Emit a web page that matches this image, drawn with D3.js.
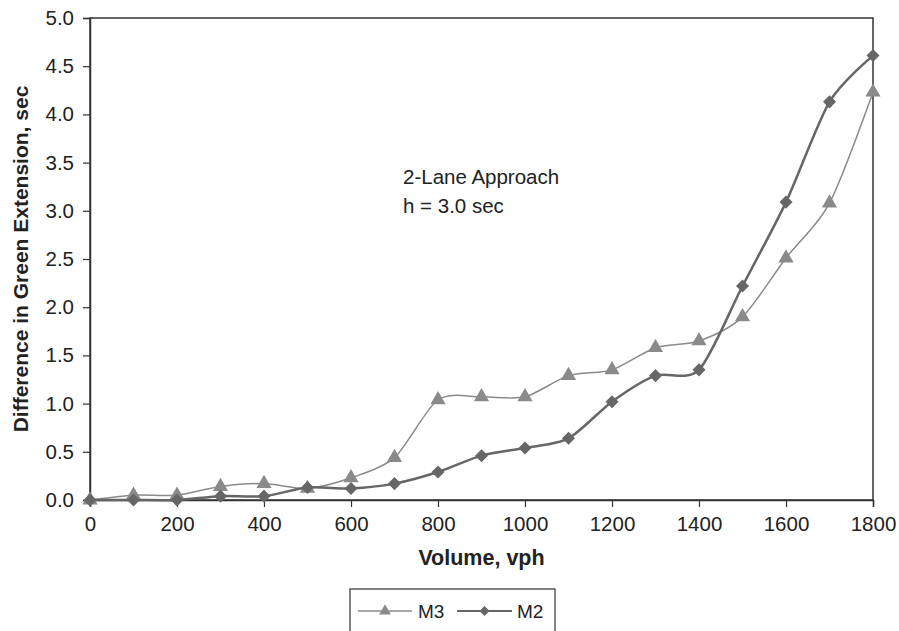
<!DOCTYPE html>
<html>
<head>
<meta charset="utf-8">
<style>
body { margin: 0; background: #fff; }
svg text { font-family: "Liberation Sans", Arial, sans-serif; fill: #222; }
</style>
</head>
<body>
<svg width="899" height="631"></svg>
<script src="https://d3js.org/d3.v7.min.js"></script>
<script>
var volume = [0, 100, 200, 300, 400, 500, 600, 700, 800, 900, 1000, 1100, 1200, 1300, 1400, 1500, 1600, 1700, 1800];
var m3 = [0.00, 0.05, 0.05, 0.14, 0.17, 0.12, 0.23, 0.44, 1.04, 1.07, 1.07, 1.29, 1.35, 1.58, 1.65, 1.90, 2.51, 3.08, 4.23];
var m2 = [0.00, 0.00, 0.00, 0.04, 0.04, 0.13, 0.12, 0.17, 0.29, 0.46, 0.54, 0.64, 1.02, 1.29, 1.35, 2.22, 3.09, 4.13, 4.61];
var xTicks = [0, 200, 400, 600, 800, 1000, 1200, 1400, 1600, 1800];
var yTicks = [0, 0.5, 1, 1.5, 2, 2.5, 3, 3.5, 4, 4.5, 5];

var svg = d3.select("svg");
var pLeft = 90, pRight = 873, pTop = 18, pBottom = 500;

var x = d3.scaleLinear().domain([0, 1800]).range([pLeft, pRight]);
var y = d3.scaleLinear().domain([0, 5]).range([pBottom, pTop]);

// frame
svg.append("rect")
    .attr("x", pLeft).attr("y", pTop)
    .attr("width", pRight - pLeft).attr("height", pBottom - pTop)
    .attr("fill", "none").attr("stroke", "#333").attr("stroke-width", 1.5);

var yAxis = svg.append("g")
    .attr("transform", "translate(" + pLeft + ",0)")
    .call(d3.axisLeft(y).tickValues(yTicks).tickSize(7).tickPadding(9)
        .tickFormat(d3.format(".1f")));
var xAxis = svg.append("g")
    .attr("transform", "translate(0," + pBottom + ")")
    .call(d3.axisBottom(x).tickValues(xTicks).tickSize(7).tickPadding(9)
        .tickFormat(d3.format("d")));

[xAxis, yAxis].forEach(function(a) {
  a.select(".domain").attr("stroke", "#333").attr("stroke-width", 1.5);
  a.selectAll(".tick line").attr("stroke", "#333").attr("stroke-width", 1.2);
  a.selectAll(".tick text").style("font-size", "20.5px").attr("fill", "#222");
});

svg.append("text")
    .attr("transform", "translate(28," + ((pTop + pBottom) / 2) + ") rotate(-90)")
    .attr("text-anchor", "middle")
    .style("font-size", "21px").style("font-weight", "bold")
    .text("Difference in Green Extension, sec");

svg.append("text")
    .attr("x", (pLeft + pRight) / 2).attr("y", 565)
    .attr("text-anchor", "middle")
    .style("font-size", "21.5px").style("font-weight", "bold")
    .text("Volume, vph");

svg.append("text").attr("x", 403).attr("y", 184)
    .style("font-size", "20.5px").text("2-Lane Approach");
svg.append("text").attr("x", 403).attr("y", 213)
    .style("font-size", "20.5px").text("h = 3.0 sec");

var line = d3.line()
    .x(function(d) { return x(d[0]); })
    .y(function(d) { return y(d[1]); })
    .curve(d3.curveCardinal.tension(0.2));

// triangle and a square turned 45 degrees for the diamond
var tri = d3.symbol().type(d3.symbolTriangle).size(100);
var dia = d3.symbol().type(d3.symbolSquare).size(85);
var triSmall = d3.symbol().type(d3.symbolTriangle).size(60);
var diaSmall = d3.symbol().type(d3.symbolSquare).size(50);

var series = [
  { name: "M3", values: m3, color: "#8a8a8a", width: 1.5, sym: tri, small: triSmall, rot: 0 },
  { name: "M2", values: m2, color: "#666666", width: 2.5, sym: dia, small: diaSmall, rot: 45 }
];

series.forEach(function(s) {
  var pts = volume.map(function(v, i) { return [v, s.values[i]]; });
  svg.append("path").datum(pts)
      .attr("d", line)
      .attr("fill", "none")
      .attr("stroke", s.color)
      .attr("stroke-width", s.width);
  svg.append("g").selectAll("path")
      .data(pts).enter().append("path")
      .attr("d", s.sym)
      .attr("transform", function(d) {
        return "translate(" + x(d[0]) + "," + y(d[1]) + ") rotate(" + s.rot + ")";
      })
      .attr("fill", s.color);
});

// legend
var lg = svg.append("g");
lg.append("rect").attr("x", 350).attr("y", 589).attr("width", 205).attr("height", 60)
    .attr("fill", "#fff").attr("stroke", "#333").attr("stroke-width", 1.2);
var ly = 611;
var legendItems = [
  { s: series[0], x0: 358, x1: 412, tx: 418 },
  { s: series[1], x0: 457, x1: 512, tx: 517 }
];
legendItems.forEach(function(it) {
  lg.append("line").attr("x1", it.x0).attr("x2", it.x1).attr("y1", ly).attr("y2", ly)
      .attr("stroke", it.s.color).attr("stroke-width", it.s.width === 1.5 ? 1.3 : 2);
  lg.append("path").attr("d", it.s.small)
      .attr("transform", "translate(" + ((it.x0 + it.x1) / 2) + "," + ly + ") rotate(" + it.s.rot + ")")
      .attr("fill", it.s.color);
  lg.append("text").attr("x", it.tx).attr("y", ly + 7)
      .style("font-size", "19px").text(it.s.name);
});
</script>
</body>
</html>
